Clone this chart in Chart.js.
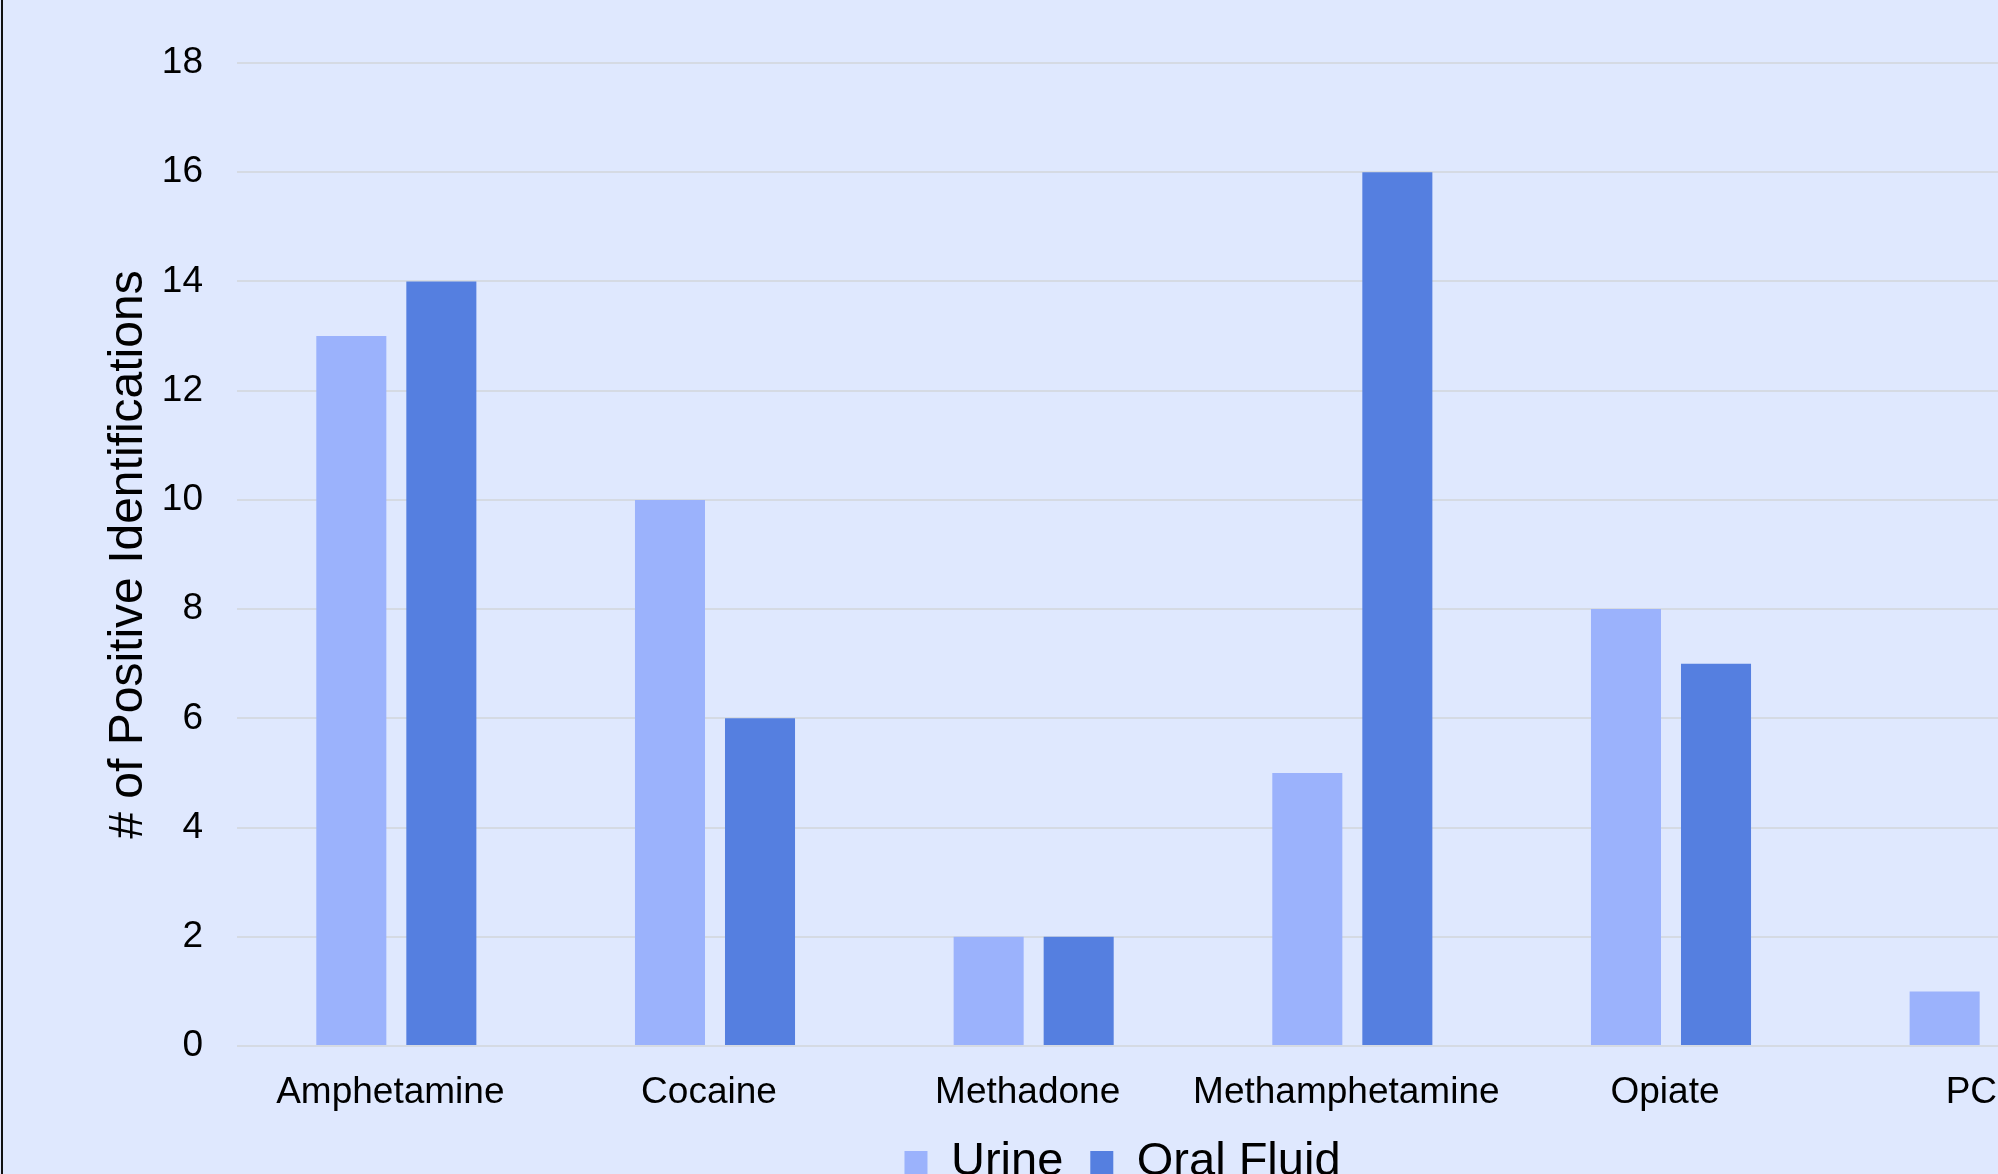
<!DOCTYPE html>
<html>
<head>
<meta charset="utf-8">
<title>Positive Identifications</title>
<script src="https://cdn.jsdelivr.net/npm/chart.js@4/dist/chart.umd.min.js"></script>
<style>
    html, body { margin: 0; padding: 0; overflow: hidden; background: #dfe8fe; }
    body { width: 1998px; height: 1174px; position: relative; }
    #wrap { position: absolute; left: 0; top: 0; width: 2242px; height: 1196px; }
    #edge { position: absolute; left: 1px; top: 0; width: 2px; height: 1174px; background: #111; }
</style>
</head>
<body>
<div id="wrap"><canvas id="drugChart"></canvas></div>
<div id="edge"></div>
<script>
// ── Data ────────────────────────────────────────────────────
const categories = ['Amphetamine', 'Cocaine', 'Methadone', 'Methamphetamine', 'Opiate', 'PCP'];
const urine      = [13, 10, 2, 5, 8, 1];
const oralFluid  = [14, 6, 2, 16, 7, null];
const yTicks     = [0, 2, 4, 6, 8, 10, 12, 14, 16, 18];

const FONT = "'Liberation Sans', Arial, sans-serif";

new Chart(document.getElementById('drugChart'), {
    type: 'bar',
    data: {
        labels: categories,
        datasets: [
            { label: 'Urine',       data: urine,     backgroundColor: '#9bb2fc' },
            { label: 'Oral Fluid',  data: oralFluid, backgroundColor: '#557fe0' }
        ]
    },
    options: {
        responsive: true,
        maintainAspectRatio: false,
        animation: false,
        categoryPercentage: 0.565,
        barPercentage: 0.778,
        layout: { padding: { left: 96, right: 93, top: 63, bottom: 0 } },
        plugins: {
            tooltip: { enabled: false },
            legend: {
                position: 'bottom',
                labels: {
                    font: { family: FONT, size: 47 },
                    color: '#000',
                    boxWidth: 23,
                    boxHeight: 23,
                    padding: 27
                }
            }
        },
        scales: {
            x: {
                grid: { display: false, drawTicks: false },
                border: { display: false },
                ticks: { font: { family: FONT, size: 37 }, color: '#000', padding: 25, maxRotation: 0, labelOffset: -6 },
                afterFit: s => { s.height = 66; }
            },
            y: {
                min: 0,
                max: 18,
                afterBuildTicks: s => { s.ticks = yTicks.map(v => ({ value: v })); },
                grid: { color: '#d5dae3', lineWidth: 2, drawTicks: false },
                border: { display: false },
                ticks: { font: { family: FONT, size: 37 }, color: '#000', padding: 34 },
                title: {
                    display: true,
                    text: '# of Positive Identifications',
                    font: { family: FONT, size: 48 },
                    color: '#000',
                    padding: 4
                },
                afterFit: s => { s.width = 141; }
            }
        }
    }
});
</script>
</body>
</html>
